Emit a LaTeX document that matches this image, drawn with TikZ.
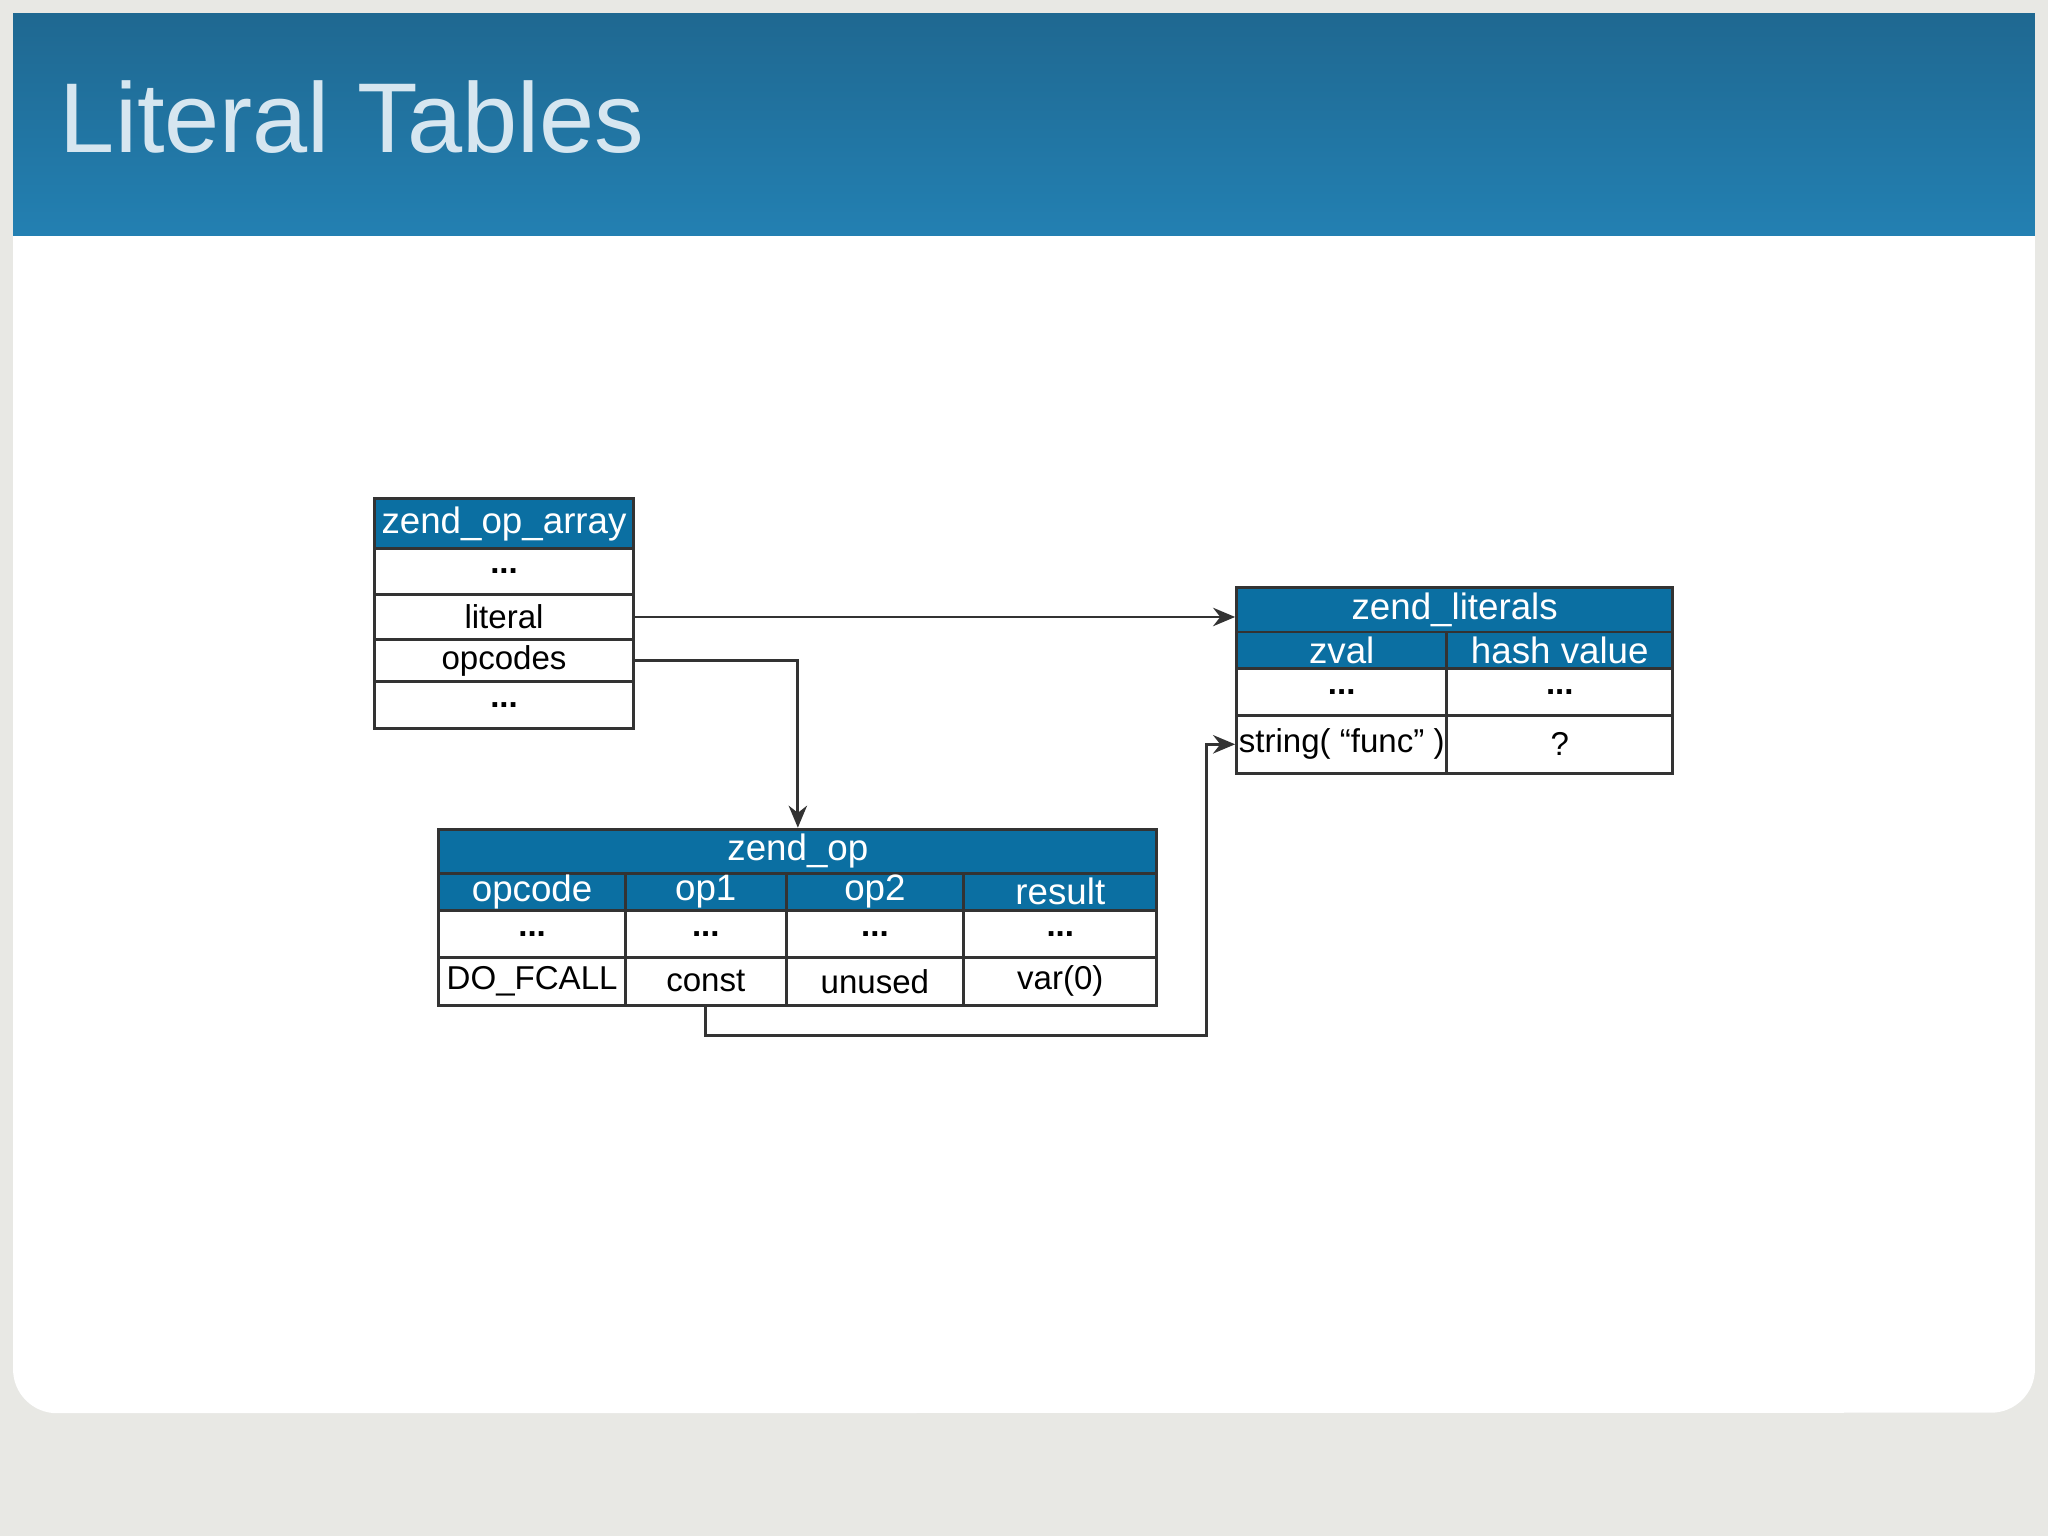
\documentclass[tikz,border=0pt]{standalone}
\usepackage{fontspec}
\setmainfont{Liberation Sans}
\usetikzlibrary{arrows.meta}
\definecolor{bgray}{HTML}{E8E8E4}
\definecolor{hdtop}{HTML}{1F6891}
\definecolor{hdbot}{HTML}{2380B2}
\definecolor{cellblue}{HTML}{0B6FA2}
\definecolor{titlec}{HTML}{D6E6F0}
\tikzset{
 hcell/.style={draw=black!80,line width=0.8pt,fill=cellblue,text=white,inner sep=0pt,font=\fontsize{10}{12}\selectfont},
 wcell/.style={draw=black!80,line width=0.8pt,fill=white,text=black,inner sep=0pt,font=\fontsize{9}{11}\selectfont},
 conn/.style={draw=black!80,line width=0.8pt,-{Stealth[length=6pt,width=5pt]}}
}
\newcommand{\mycell}[7]{%
 \node[#7,minimum width={(#4-#2)*0.0125cm},minimum height={(#5-#3)*0.0125cm}] (#1) at ({(#2+#4)/2*0.0125},{-(#3+#5)/2*0.0125}) {#6};}
\begin{document}
\begin{tikzpicture}
\useasboundingbox (0,0) rectangle (19.6,-14.7);
\fill[bgray] (0,0) rectangle (19.6,-14.7);
\fill[white] (0.125,-0.125) -- (19.475,-0.125) -- (19.475,-13.1) arc (0:-90:0.42) -- (0.545,-13.525) arc (270:180:0.42) -- cycle;
\shade[top color=hdtop,bottom color=hdbot] (0.125,-0.125) rectangle (19.475,-2.25);
\node[anchor=west,text=titlec,font=\fontsize{27}{30}\selectfont] (title) at (0.45,-1.12) {Literal Tables};
% zend_op_array
\mycell{oah}{287}{382}{485}{420}{zend\_op\_array}{hcell}
\mycell{oa1}{287}{420}{485}{455}{\textbf{...}}{wcell}
\mycell{lit}{287}{455}{485}{490}{literal}{wcell}
\mycell{opc}{287}{490}{485}{522}{opcodes}{wcell}
\mycell{oa4}{287}{522}{485}{558}{\textbf{...}}{wcell}
% zend_literals
\mycell{zlh}{947}{450}{1281}{484}{zend\_literals}{hcell}
\mycell{zv}{947}{484}{1108}{512}{zval}{hcell}
\mycell{hv}{1108}{484}{1281}{512}{hash value}{hcell}
\mycell{zl1}{947}{512}{1108}{548}{\textbf{...}}{wcell}
\mycell{zl2}{1108}{512}{1281}{548}{\textbf{...}}{wcell}
\mycell{str}{947}{548}{1108}{592}{string( “func” )}{wcell}
\mycell{q}{1108}{548}{1281}{592}{?}{wcell}
% zend_op
\mycell{zoh}{336}{635}{886}{669}{zend\_op}{hcell}
\mycell{h1}{336}{669}{479}{697}{opcode}{hcell}
\mycell{h2}{479}{669}{602}{697}{op1}{hcell}
\mycell{h3}{602}{669}{738}{697}{op2}{hcell}
\mycell{h4}{738}{669}{886}{697}{result}{hcell}
\mycell{a1}{336}{697}{479}{733}{\textbf{...}}{wcell}
\mycell{a2}{479}{697}{602}{733}{\textbf{...}}{wcell}
\mycell{a3}{602}{697}{738}{733}{\textbf{...}}{wcell}
\mycell{a4}{738}{697}{886}{733}{\textbf{...}}{wcell}
\mycell{b1}{336}{733}{479}{770}{DO\_FCALL}{wcell}
\mycell{b2}{479}{733}{602}{770}{const}{wcell}
\mycell{b3}{602}{733}{738}{770}{unused}{wcell}
\mycell{b4}{738}{733}{886}{770}{var(0)}{wcell}
% connectors
\draw[conn] (lit.east) -- (lit.east -| zlh.west);
\draw[conn] (opc.east) -| (zoh.north);
\coordinate (turn) at (11.55,-9.91);
\draw[conn] (b2.south) |- (turn) |- (str.west);
\end{tikzpicture}
\end{document}
